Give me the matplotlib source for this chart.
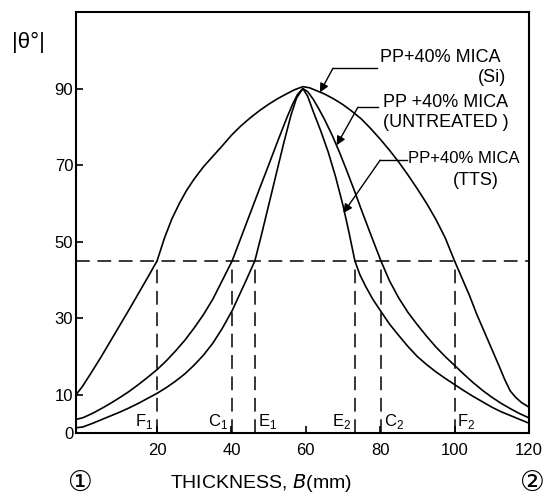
import numpy as np
import matplotlib.pyplot as plt

plt.rcParams['font.family'] = ['Liberation Sans', 'DejaVu Sans', 'Noto Sans CJK SC']
plt.rcParams['mathtext.fontset'] = 'dejavusans'

# curve readings, thickness B (mm) vs |theta| (deg)
si_x = [-1.8, 0, 2.5, 5, 7.5, 10, 12.5, 15, 17.5, 20, 22, 24, 26, 28, 30, 32.5, 35, 37.5, 40, 42.5,
        45, 47.5, 50, 52.5, 55, 57, 59.2, 61, 63, 65, 67.5, 70, 72.5, 75, 77.5, 80, 82.5, 85, 87.5,
        90, 92.5, 95, 97.5, 100, 102, 104, 106, 108, 110, 112, 113.5, 115, 116.5, 118, 120]
si_y = [10, 12.3, 16.1, 20, 24.1, 28.2, 32.3, 36.5, 40.7, 45, 51, 56, 60, 63.5, 66.4, 69.6, 72.3,
        75, 77.8, 80.2, 82.3, 84.2, 85.9, 87.4, 88.7, 89.7, 90.5, 90.2, 89.4, 88.6, 87.3, 85.8, 84,
        82, 79.5, 76.8, 73.9, 70.8, 67.4, 63.8, 60, 55.8, 51, 45, 40.5, 36, 31, 26.5, 22, 17.5, 14,
        11, 9.3, 8, 6.8]

untr_x = [-1.8, 0, 2.5, 5, 7.5, 10, 12.5, 15, 17.5, 20, 22.5, 25, 27.5, 30, 32.5, 35, 37.5, 40.2,
          42.5, 45, 47.5, 50, 52.5, 55, 56.5, 57.8, 59.2, 60.5, 62, 63.5, 65, 67, 69, 71, 73, 75,
          77.5, 80.2, 82.5, 85, 87.5, 90, 92.5, 95, 97.5, 100, 102.5, 105, 107.5, 110, 112.5, 115,
          117.5, 120]
untr_y = [3.6, 4, 5.1, 6.4, 7.8, 9.3, 10.9, 12.7, 14.6, 16.6, 18.9, 21.5, 24.3, 27.5, 31, 35, 39.8,
          45, 50.9, 57.3, 63.7, 70, 76.4, 82.6, 86, 88.5, 90, 89.2, 87.2, 84.7, 82, 78, 73.5, 68.6,
          63.5, 58.2, 51.8, 45, 39.8, 35.3, 31.5, 28.3, 25.3, 22.5, 20, 17.7, 15.4, 13.2, 11.2, 9.4,
          7.8, 6.4, 5.1, 4]

tts_x = [-1.8, 0, 2.5, 5, 7.5, 10, 12.5, 15, 17.5, 20, 22.5, 25, 27.5, 30, 32.5, 35, 37.5, 40.2, 42,
         44, 46.3, 48, 50, 52, 54, 56, 57.5, 59.2, 60.5, 62, 64, 66, 68, 70, 71.6, 73.2, 74.5, 76, 78,
         80.2, 82.5, 85, 87.5, 90, 92.5, 95, 97.5, 100, 102.5, 105, 107.5, 110, 112.5, 115, 117.5,
         120]
tts_y = [1.4, 1.6, 2.5, 3.5, 4.5, 5.5, 6.6, 7.8, 9.1, 10.4, 11.9, 13.6, 15.5, 17.8, 20.4, 23.5, 27.3,
         32, 35.8, 40, 45, 51.5, 59.5, 67.5, 75.5, 83, 87.5, 90, 88, 84, 79, 73.5, 67, 59.5, 52.5, 45,
         41.5, 38.5, 35, 31.8, 28.5, 25.5, 22.6, 20, 17.9, 16, 14.3, 12.7, 11.1, 9.6, 8.2, 6.8, 5.6,
         4.6, 3.6, 2.6]

half_level = 45
cut_names = ['F', 'C', 'E', 'E', 'C', 'F']
cut_subs = ['1', '1', '1', '2', '2', '2']
cut_x = [20, 40.2, 46.3, 73.2, 80.2, 100]
cut_side = ['left', 'left', 'right', 'left', 'right', 'right']

xticks = [20, 40, 60, 80, 100, 120]
yticks = [0, 10, 30, 50, 70, 90]

fig = plt.figure(figsize=(5.43, 4.99), dpi=100)
ax = fig.add_axes([0.140, 0.132, 0.834, 0.844])

for xs, ys in [(si_x, si_y), (untr_x, untr_y), (tts_x, tts_y)]:
    ax.plot(xs, ys, color='black', lw=1.2, solid_joinstyle='round')

ax.axhline(half_level, color='black', lw=1.1, dashes=(9, 5))
for xc, nm, sb, side in zip(cut_x, cut_names, cut_subs, cut_side):
    ax.plot([xc, xc], [0, half_level], color='black', lw=1.1, dashes=(9, 5))
    dx = -1.0 if side == 'left' else 0.8
    ax.text(xc + dx, 0.6, nm + r'$_\mathregular{' + sb + '}$', ha='right' if side == 'left' else 'left',
            va='bottom', fontsize=12)

# annotations with leader lines: text lines, text x/y/align/size, leader segment, arrow tip
notes = [
    (['PP+40% MICA', '(Si)'], [(80.0, 98.2, 'left', 13), (114.0, 93.0, 'right', 13)],
     (67.3, 79.1, 95.3), (63.8, 89.0)),
    (['PP +40% MICA', '(UNTREATED )'], [(80.7, 86.4, 'left', 13), (80.7, 81.2, 'left', 13)],
     (74.0, 79.4, 85.1), (68.3, 75.2)),
    (['PP+40% MICA', '(TTS)'], [(87.5, 71.8, 'left', 12), (99.6, 66.0, 'left', 13)],
     (80.0, 87.2, 71.3), (70.1, 57.5)),
]
for lines, pos, lead, tip in notes:
    for txt, (tx, ty, ha, fs) in zip(lines, pos):
        ax.text(tx, ty, txt, ha=ha, va='center', fontsize=fs)
    ax.plot([lead[0], lead[1]], [lead[2], lead[2]], color='black', lw=1.0)
    ax.annotate('', xy=tip, xytext=(lead[0], lead[2]),
                arrowprops=dict(arrowstyle='-|>', color='black', lw=1.0, mutation_scale=13,
                                shrinkA=0, shrinkB=0))

ax.set_xlim(-1.8, 120)
ax.set_ylim(0, 110)
ax.set_xticks(xticks)
ax.set_yticks(yticks)
ax.tick_params(direction='in', length=5, width=1.2, labelsize=12)
ax.tick_params(axis='x', pad=7)
ax.tick_params(axis='y', pad=2)
for sp in ax.spines.values():
    sp.set_linewidth(1.5)

fig.text(28 / 543, 1 - 42 / 499, '|θ°|', ha='center', va='center', fontsize=16)
fig.text(261 / 543, 1 - 483 / 499, r'THICKNESS, $\mathit{B}$(mm)', ha='center', va='center', fontsize=14)
fig.text(80 / 543, 1 - 484 / 499, '①', ha='center', va='center', fontsize=20)
fig.text(532 / 543, 1 - 484 / 499, '②', ha='center', va='center', fontsize=20)

fig.savefig('out.png', dpi=100)
